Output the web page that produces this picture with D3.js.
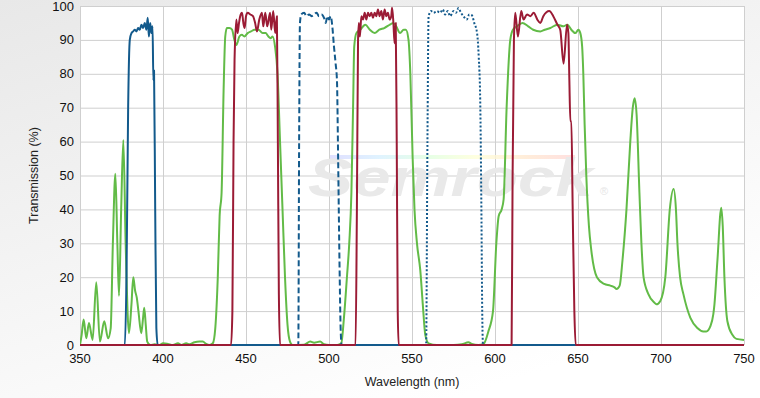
<!DOCTYPE html>
<html><head><meta charset="utf-8">
<script src="https://cdn.jsdelivr.net/npm/d3@7"></script>
<style>body{margin:0;padding:0;overflow:hidden;} svg{display:block;}</style>
</head><body>
<svg id="chart" width="760" height="398"></svg>
<script>
// ---------- DATA ----------
const xTicks = [350,400,450,500,550,600,650,700,750];
const yTicks = [0,10,20,30,40,50,60,70,80,90,100];

// Green solid (wavelength nm, transmission %)
const greenWl = [350,351,352.2,353.8,355.4,357.6,359.8,362,364.6,366.9,368.5,369.8,371.3,372.5,373.5,374.8,376.1,377.5,379.5,381,382.1,383.2,384.2,385.2,386.9,388,388.7,389.6,390.5,392.4,395,398,400,403,406,409,411,414,416,419,422,424,426,428,430,431.5,433,434.1,435.3,436.5,437.5,438.5,440,441.6,443,444.2,446,447.5,449,451,453,455.2,457.5,460,461.8,463.5,464.8,466,467.5,469,470.5,472,473.5,475,476.5,478,485,488.7,491,494.7,497,500,505,507.4,509,510.8,512.2,513.5,514.5,515.2,516.5,518.8,521.9,524.6,527.5,530.3,533.3,536.7,538.8,540.5,542.8,545,546.3,547.9,549,550.4,551.5,553,555,556.5,558,560,565,575,580,584,586,590,593.1,596,598.8,600.8,602.2,604,605.2,607,609.2,610.8,613.2,616.5,620,623,627.3,630,633.3,637.6,641.2,643.6,646,648.4,650.2,651.4,652.5,653.2,654,655,656.6,658,661.4,665.8,669.5,672,673.2,675.1,676.8,679.2,681.5,683,684.1,685.3,687,688.2,689.5,692.4,696,697.2,699.6,702.6,705.3,707.6,709,709.9,711.5,713.5,717.7,721.9,725.5,727.3,729.7,731.5,732.2,734,736.3,737.2,738.2,740,743,745.4,750];
const greenT  = [0,3,7.5,2,6.5,1.5,18.5,1,7,2,5,30,50.5,30,14.5,40,60.5,30,3.5,12,20,16,14,10,3.5,8,11,6,1,0,0.2,0,0.5,0.3,0,0.5,0,0.5,0.2,0.8,1,1,0.3,0,0.5,5,20,38,45,75,91,93.5,93.5,93,90,88.5,91,91.5,91,92,92.5,93,93,92,92,91,90.5,91,88,80,60,40,20,6,1,0,0.1,1,0.7,1,0.2,0,0,0.5,8,20,30,45,70,88,92,93,94.5,93,92,93,93.5,94.5,95,94,92,93,93,90,80,55,40,30,22,12,3,0.5,0,0,0.2,0.8,0.3,0,0.3,4,10,30,38,40,43,70,90,93,94,95,94,93,92.5,93,93.5,94.5,94,94.5,93,92,93,92,88,80,65,50,35,28,20,18,17.5,17,16.5,17.5,25,40,60,70,72.8,68,45,30,20,15,12.5,12,13,20,40,46,40,30,20,15,8,5,4,4,5.5,9,12,25,40.5,35,20,7,3,1.8,1.5];

// Red solid (triple band)
const redWl = [350,441,441.8,442.5,443.1,444.2,444.9,445.8,446.5,447.6,448.4,449.2,450,451,452.6,454.2,455.5,456.6,458,459.6,460.4,461.6,462.8,464.5,465.2,466.4,467.6,468.6,469.2,469.8,470.5,516,516.8,517.5,518,518.6,519.5,520.5,521.5,522.5,523.5,524.5,525.5,526.5,527.5,528.5,529.5,530.5,531.5,532.5,533.5,534.5,535.5,536.5,537.5,538,538.8,539.5,540.2,540.8,541.4,542,610,610.6,611.4,612.2,613.8,615.8,617.2,619.3,621.3,623.3,625.5,627.3,629.1,632.7,635.1,637.6,639.3,641.3,643.4,644.2,644.8,645.4,646,646.8,647.8,648.6,750];
const redT  = [0,0,10,60,84,96,92,95,97,98,95,93.5,97,98,97.5,97,95,92.5,96,98,94,98,94,98,93,98.5,92,97,60,15,0,0,40,90,95,91,97,96,98,96,98,97,98,96.5,98,97,99,97,98.5,96,99,97,98,96,97,99.5,95,89,95,60,10,0,0,50,90,98,91,98.5,96,97.5,97,98,96,95,97,98.5,97,94.5,93,83,94.5,92,78,66,66,40,10,0,0];

// Blue solid
const blueWl = [350,377,378,379,380,381,382,383,384,385,386,387,388,389,390,390.8,391.5,392.3,393,393.7,394.2,394.6,395.3,396,396.8,750];
const blueT  = [0,0,20,70,90,92,92.5,93,92.5,93.5,93,94.5,93.5,95,93,96.5,91,95,92,94,78,81,40,5,0,0];

// Blue dashed
const blueDashWl = [350,481.5,482,482.5,483.3,485,486.5,488,489.5,491,492.5,494,495.5,497,498,499,500,501,502,503,504,504.8,505.5,506.3,507,507.6,750];
const blueDashT  = [0,0,60,95,97.5,98,97,97.5,97,97.5,98,97,97.5,96.5,95,97,96,97,94,88,83,78,55,25,5,0,0];

// Blue dotted
const blueDotWl = [350,558.5,559.3,560,561.5,563,565,567,568.5,570,571.5,573,575,576.5,578,579.5,581,583,584.5,586,587.5,589.2,590.2,591.1,591.8,592.3,592.8,750];
const blueDotT  = [0,0,60,97,98.5,98,98.5,98,99,97.5,98.5,97,98.5,98,99.4,98,97,96,97.5,97.3,95,92,85,72,40,10,0,0];

// ---------- CHART ----------
const W = 760, H = 398;
const m = {left:80, right:16, top:6, bottom:53};
const svg = d3.select("#chart");

const defs = svg.append("defs");
const bg = defs.append("linearGradient").attr("id","bg").attr("x1","0").attr("y1","0").attr("x2","0.6").attr("y2","1");
bg.append("stop").attr("offset","0").attr("stop-color","#e8e8e8");
bg.append("stop").attr("offset","1").attr("stop-color","#ffffff");
const rb = defs.append("linearGradient").attr("id","rainbow").attr("x1","0").attr("x2","1");
["#d8d8ff","#d8f0ff","#e0ffe0","#ffffd8","#ffe8d0","#ffd8d8"].forEach((c,i,a)=>{
  rb.append("stop").attr("offset", i/(a.length-1)).attr("stop-color", c);
});

svg.append("rect").attr("width",W).attr("height",H).attr("fill","url(#bg)");

const x = d3.scaleLinear().domain([350,750]).range([m.left, W-m.right]);
const y = d3.scaleLinear().domain([0,100]).range([H-m.bottom, m.top]);

svg.append("rect").attr("x",x(350)).attr("y",y(100))
  .attr("width",x(750)-x(350)).attr("height",y(0)-y(100)).attr("fill","#fff");

// grid
const g = svg.append("g");
g.selectAll(".gx").data(xTicks).join("line")
  .attr("x1",d=>x(d)+0.5).attr("x2",d=>x(d)+0.5).attr("y1",y(100)).attr("y2",y(0))
  .attr("stroke","#cfcfcf").attr("stroke-width",1);
g.selectAll(".gy").data(yTicks).join("line")
  .attr("x1",x(350)).attr("x2",x(750)).attr("y1",d=>y(d)+0.5).attr("y2",d=>y(d)+0.5)
  .attr("stroke","#cfcfcf").attr("stroke-width",1);

// watermark
const wm = svg.append("g");
wm.append("rect").attr("x",330).attr("y",155).attr("width",245).attr("height",4).attr("fill","url(#rainbow)").attr("opacity",0.8);
wm.append("text").attr("x",308).attr("y",196).attr("textLength",285).attr("lengthAdjust","spacingAndGlyphs")
  .attr("font-family","Liberation Sans, Arial, sans-serif").attr("font-weight","bold").attr("font-style","italic")
  .attr("font-size",54).attr("fill","#e9e9e9").text("Semrock");
wm.append("text").attr("x",600).attr("y",195).attr("font-family","Liberation Sans, Arial, sans-serif")
  .attr("font-size",11).attr("fill","#e6e6e6").text("®");

// axes labels
const font = "Liberation Sans, Arial, sans-serif";
svg.append("g").selectAll("text").data(yTicks).join("text")
  .attr("x",74).attr("y",d=>y(d)+4.5).attr("text-anchor","end")
  .attr("font-family",font).attr("font-size",13).attr("fill","#111").text(d=>d);
svg.append("g").selectAll("text").data(xTicks).join("text")
  .attr("x",d=>x(d)).attr("y",363).attr("text-anchor","middle")
  .attr("font-family",font).attr("font-size",13).attr("fill","#111").text(d=>d);

svg.append("text").attr("x",(x(350)+x(750))/2).attr("y",386).attr("text-anchor","middle")
  .attr("font-family",font).attr("font-size",12.5).attr("fill","#222").text("Wavelength (nm)");
svg.append("text").attr("transform",`translate(38,${(y(0)+y(100))/2}) rotate(-90)`).attr("text-anchor","middle")
  .attr("font-family",font).attr("font-size",12.5).attr("fill","#222").text("Transmission (%)");

// lines
const line = d3.line().x(d=>x(d[0])).y(d=>y(d[1])).curve(d3.curveMonotoneX);
const zip = (a,b)=>a.map((v,i)=>[v,b[i]]);
const series = [
  {wl:greenWl, t:greenT, color:"#62bb47", dash:null},
  {wl:blueWl, t:blueT, color:"#135a8c", dash:null},
  {wl:blueDashWl, t:blueDashT, color:"#135a8c", dash:"6,3"},
  {wl:blueDotWl, t:blueDotT, color:"#135a8c", dash:"2,2"},
  {wl:redWl, t:redT, color:"#9b1b35", dash:null}
];
const clip = defs.append("clipPath").attr("id","clip").append("rect")
  .attr("x",x(350)).attr("y",y(100)-2).attr("width",x(750)-x(350)).attr("height",y(0)-y(100)+3);
svg.append("g").attr("clip-path","url(#clip)").selectAll("path").data(series).join("path")
  .attr("d",d=>line(zip(d.wl,d.t)))
  .attr("fill","none").attr("stroke",d=>d.color).attr("stroke-width",2)
  .attr("stroke-linejoin","round")
  .attr("stroke-dasharray",d=>d.dash);
</script>
</body></html>
